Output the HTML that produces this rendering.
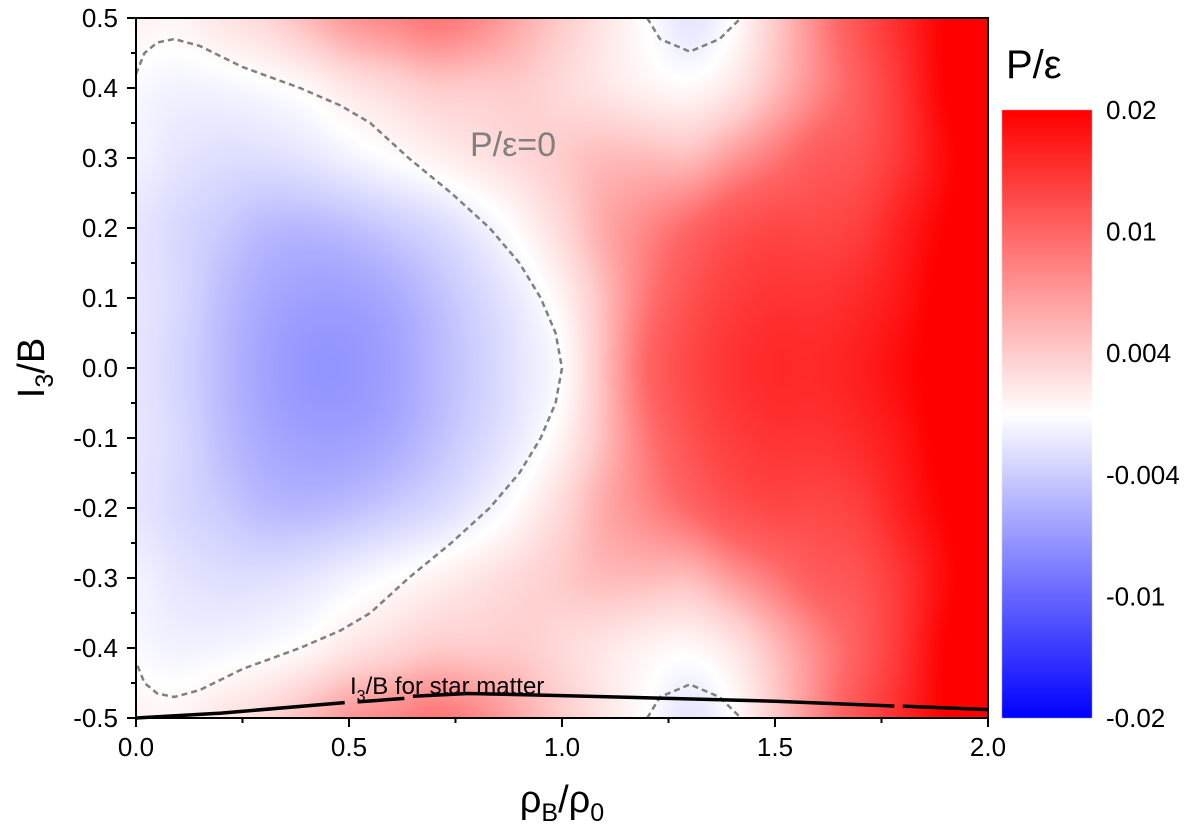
<!DOCTYPE html>
<html><head><meta charset="utf-8">
<style>
body{margin:0;background:#fff;width:1200px;height:830px;overflow:hidden;font-family:"Liberation Sans",Arial,sans-serif;}
#wrap{position:relative;width:1200px;height:830px;}
canvas,svg{position:absolute;left:0;top:0;}
</style></head>
<body>
<div id="wrap">
<canvas id="heat" width="1200" height="830"></canvas>
<svg id="ov" width="1200" height="830"></svg>
</div>
<script>
// ---- data ----
const xCats = [0,0.1,0.2,0.3,0.4,0.5,0.6,0.7,0.8,0.9,1.0,1.1,1.2,1.3,1.4,1.5,1.6,1.7,1.8,1.9,2.0];
const yCats = [0.5,0.4,0.3,0.2,0.1,0,-0.1,-0.2,-0.3,-0.4,-0.5];
const rowY05 = [0.001,0.0008,0.002,0.003,0.005,0.007,0.008,0.009,0.008,0.006,0.004,0.002,0,-0.002,0,0.004,0.008,0.012,0.016,0.02,0.022];
const rowY04 = [-0.0005,-0.001,-0.0008,-0.0003,0.0005,0.002,0.003,0.004,0.004,0.004,0.003,0.002,0.001,0.0005,0.002,0.005,0.008,0.011,0.015,0.02,0.022];
const rowY03 = [-0.001,-0.002,-0.0025,-0.0025,-0.002,-0.001,0,0.001,0.002,0.003,0.004,0.005,0.005,0.005,0.007,0.009,0.011,0.012,0.015,0.019,0.022];
const rowY02 = [-0.002,-0.003,-0.004,-0.005,-0.0052,-0.0048,-0.004,-0.003,-0.0015,0.0005,0.003,0.006,0.008,0.01,0.012,0.013,0.013,0.014,0.017,0.02,0.022];
const rowY01 = [-0.002,-0.003,-0.0048,-0.006,-0.0066,-0.0066,-0.006,-0.0048,-0.0033,-0.0015,0.001,0.005,0.009,0.012,0.014,0.015,0.015,0.016,0.018,0.021,0.022];
const rowY00 = [-0.002,-0.0033,-0.005,-0.0064,-0.0072,-0.0072,-0.0065,-0.0052,-0.0038,-0.002,0,0.005,0.01,0.013,0.015,0.016,0.016,0.017,0.019,0.021,0.022];
const gridRows = [rowY05,rowY04,rowY03,rowY02,rowY01,rowY00,rowY01,rowY02,rowY03,rowY04,rowY05];
const cbTicks = [-0.02,-0.01,-0.004,0,0.004,0.01,0.02];
const cbTickLabels = ["-0.02","-0.01","-0.004","","0.004","0.01","0.02"];
const xTicks = [0,0.5,1.0,1.5,2.0];
const xTickLabels = ["0.0","0.5","1.0","1.5","2.0"];
const yTicks = [0.5,0.4,0.3,0.2,0.1,0,-0.1,-0.2,-0.3,-0.4,-0.5];
const yTickLabels = ["0.5","0.4","0.3","0.2","0.1","0.0","-0.1","-0.2","-0.3","-0.4","-0.5"];
const contourMainX = [0,0.02,0.05,0.09,0.15,0.25,0.385,0.48,0.55,0.64,0.74,0.83,0.9,0.95,0.985,1.0,0.985,0.95,0.9,0.83,0.74,0.64,0.55,0.48,0.385,0.25,0.15,0.09,0.05,0.02,0];
const contourMainY = [0.42,0.45,0.465,0.47,0.46,0.43,0.4,0.375,0.35,0.3,0.25,0.2,0.15,0.1,0.05,0,-0.05,-0.1,-0.15,-0.2,-0.25,-0.3,-0.35,-0.375,-0.4,-0.43,-0.46,-0.47,-0.465,-0.45,-0.42];
const contourTopX = [1.2,1.23,1.3,1.37,1.42];
const contourTopY = [0.5,0.47,0.452,0.47,0.5];
const contourBotX = [1.2,1.23,1.3,1.37,1.42];
const contourBotY = [-0.5,-0.47,-0.452,-0.47,-0.5];
const starSeg1X = [0,0.2,0.49]; const starSeg1Y = [-0.5,-0.493,-0.478];
const starSeg2X = [0.52,0.63]; const starSeg2Y = [-0.477,-0.472];
const starSeg3X = [0.65,0.78,1.0,1.5,1.78]; const starSeg3Y = [-0.469,-0.465,-0.468,-0.476,-0.483];
const starSeg4X = [1.8,2.0]; const starSeg4Y = [-0.483,-0.488];

// ---- axes ----
const L=136,R=988,T=18,B=718;
const sx=v=>L+(v-0)/(2.0)*(R-L);
const sy=v=>T+(0.5-v)/1.0*(B-T);
const cbT=110,cbB=718,cbL=1002,cbR=1092;
function valPos(v){
  if(v<=cbTicks[0])return 0; if(v>=cbTicks[6])return 1;
  const pos=[0,1,2,2.5,3,4,5];
  for(let i=0;i<6;i++){if(v<=cbTicks[i+1]){const f=(v-cbTicks[i])/(cbTicks[i+1]-cbTicks[i]);return (pos[i]+f*(pos[i+1]-pos[i]))/5;}}
  return 1;
}
function colT(t){
  if(t>=0.5){const k=(t-0.5)*2;return [255,Math.round(255*(1-k)),Math.round(255*(1-k))];}
  const k=(0.5-t)*2;return [Math.round(255*(1-k)),Math.round(255*(1-k)),255];
}
function cr(p0,p1,p2,p3,t){return 0.5*((2*p1)+(-p0+p2)*t+(2*p0-5*p1+4*p2-p3)*t*t+(-p0+3*p1-3*p2+p3)*t*t*t);}
function g(j,i){j=Math.min(Math.max(j,0),yCats.length-1);i=Math.min(Math.max(i,0),xCats.length-1);return gridRows[j][i];}
function sample(x,y){
  const fx=(x-xCats[0])/(xCats[xCats.length-1]-xCats[0])*(xCats.length-1);
  const fy=(yCats[0]-y)/(yCats[0]-yCats[yCats.length-1])*(yCats.length-1);
  let i=Math.min(Math.max(Math.floor(fx),0),xCats.length-2),j=Math.min(Math.max(Math.floor(fy),0),yCats.length-2);
  const a=fx-i,b=fy-j;const r=[];
  for(let dj=-1;dj<=2;dj++){r.push(cr(g(j+dj,i-1),g(j+dj,i),g(j+dj,i+1),g(j+dj,i+2),a));}
  return cr(r[0],r[1],r[2],r[3],b);
}
const cv=document.getElementById('heat');const ctx=cv.getContext('2d');
const W=R-L,H=B-T;const img=ctx.createImageData(W,H);
for(let py=0;py<H;py++){const y=0.5-(py+0.5)/H;for(let px=0;px<W;px++){const x=(px+0.5)/W*2.0;const c=colT(valPos(sample(x,y)));const o=(py*W+px)*4;img.data[o]=c[0];img.data[o+1]=c[1];img.data[o+2]=c[2];img.data[o+3]=255;}}
ctx.putImageData(img,L,T);
for(let py=cbT;py<cbB;py++){const t=1-(py-cbT)/(cbB-cbT);const c=colT(t);ctx.fillStyle=`rgb(${c[0]},${c[1]},${c[2]})`;ctx.fillRect(cbL,py,cbR-cbL,1);}

const svg=document.getElementById('ov');const NS='http://www.w3.org/2000/svg';
function mk(tag,attrs,name,parent){const e=document.createElementNS(NS,tag);for(const k in attrs)e.setAttribute(k,attrs[k]);


(parent||svg).appendChild(e);return e;}
function poly(xs,ys,attrs,name){const pts=xs.map((x,i)=>sx(x).toFixed(1)+','+sy(ys[i]).toFixed(1)).join(' ');return mk('polyline',Object.assign({points:pts,fill:'none','stroke-linejoin':'round'},attrs),name);}
poly(contourMainX,contourMainY,{stroke:'#808080','stroke-width':2.5,'stroke-dasharray':'6,4'},'zero-contour-main');
poly(contourTopX,contourTopY,{stroke:'#808080','stroke-width':2.5,'stroke-dasharray':'6,4'},'zero-contour-top');
poly(contourBotX,contourBotY,{stroke:'#808080','stroke-width':2.5,'stroke-dasharray':'6,4'},'zero-contour-bottom');
[[starSeg1X,starSeg1Y],[starSeg2X,starSeg2Y],[starSeg3X,starSeg3Y],[starSeg4X,starSeg4Y]].forEach((s,i)=>poly(s[0],s[1],{stroke:'#000','stroke-width':3.5},'star-matter-line-'+(i+1)));
mk('rect',{x:L,y:T,width:R-L,height:B-T,fill:'none',stroke:'#000','stroke-width':2},'plot-frame');
for(let v=0;v<=2.0001;v+=0.25){const major=Math.abs(v*2-Math.round(v*2))<1e-6;mk('line',{x1:sx(v),x2:sx(v),y1:B,y2:B+(major?9:5),stroke:'#000','stroke-width':2},'x-tick');}
xTicks.forEach((v,i)=>{const t=mk('text',{x:sx(v),y:B+38,'font-size':26,'text-anchor':'middle'},'x-tick-label');t.textContent=xTickLabels[i];});
for(let k=0;k<=20;k++){const v=0.5-k*0.05;const major=k%2==0;mk('line',{x1:L,x2:L-(major?9:5),y1:sy(v),y2:sy(v),stroke:'#000','stroke-width':2},'y-tick');}
yTicks.forEach((v,i)=>{const t=mk('text',{x:L-18,y:sy(v)+9,'font-size':26,'text-anchor':'end'},'y-tick-label');t.textContent=yTickLabels[i];});
cbTicks.forEach((v,i)=>{if(!cbTickLabels[i])return;const y=cbB-valPos(v)*(cbB-cbT);const t=mk('text',{x:1106,y:y+9,'font-size':26},'colorbar-tick-label');t.textContent=cbTickLabels[i];});
let t=mk('text',{x:562,y:812,'font-size':38,'text-anchor':'middle'},'x-axis-title');t.innerHTML='ρ<tspan font-size="25" dy="9">B</tspan><tspan dy="-9">/ρ</tspan><tspan font-size="25" dy="9">0</tspan>';
t=mk('text',{x:0,y:0,'font-size':38,'text-anchor':'middle',transform:'translate(44,368) rotate(-90)'},'y-axis-title');t.innerHTML='I<tspan font-size="25" dy="9">3</tspan><tspan dy="-9">/B</tspan>';
t=mk('text',{x:1006,y:78,'font-size':40},'colorbar-title');t.textContent='P/ε';
t=mk('text',{x:470,y:156,'font-size':34,fill:'#808080'},'zero-contour-label');t.textContent='P/ε=0';
t=mk('text',{x:350,y:694,'font-size':24},'star-matter-label');t.innerHTML='I<tspan font-size="16" dy="7">3</tspan><tspan dy="-7">/B for star matter</tspan>';
</script>
</body></html>
